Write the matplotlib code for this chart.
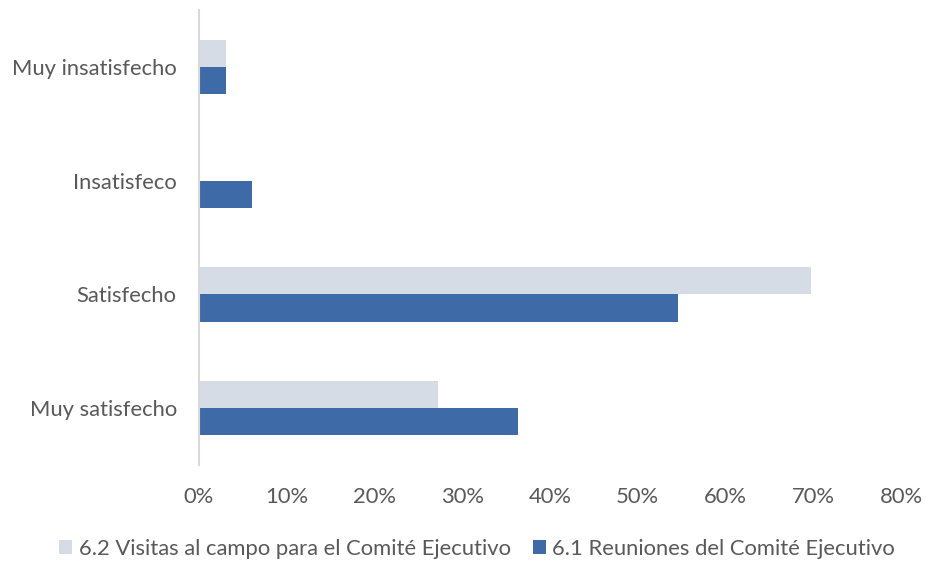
import matplotlib
matplotlib.use("Agg")
import matplotlib.pyplot as plt
import numpy as np
from matplotlib.ticker import PercentFormatter

categories = ["Muy insatisfecho", "Insatisfeco", "Satisfecho", "Muy satisfecho"]
visitas = [3.03, 0.0, 69.7, 27.27]      # 6.2 Visitas al campo para el Comité Ejecutivo
reuniones = [3.03, 6.06, 54.55, 36.36]  # 6.1 Reuniones del Comité Ejecutivo
series_names = ["6.2 Visitas al campo para el Comité Ejecutivo",
                "6.1 Reuniones del Comité Ejecutivo"]
xticks = [0, 10, 20, 30, 40, 50, 60, 70, 80]

plt.rcParams['font.family'] = ['Lato', 'DejaVu Sans']
grey = "#595959"
fs = 15.8

fig = plt.figure(figsize=(9.26, 5.63), dpi=100)
ax = fig.add_axes([199/926, 1-465/563, (901-199)/926, (465-10)/563])

y = np.arange(len(categories))
h = 0.24
ax.barh(y - h/2, visitas, height=h, color="#D6DCE5", label=series_names[0])
ax.barh(y + h/2, reuniones, height=h, color="#3F6AA8", label=series_names[1])

ax.set_ylim(len(categories) - 0.5, -0.5)
ax.set_yticks(y)
ax.set_yticklabels(categories, color=grey, fontsize=fs)
ax.set_xlim(0, 80)
ax.set_xticks(xticks)
ax.xaxis.set_major_formatter(PercentFormatter(decimals=0))
for lbl in ax.get_xticklabels():
    lbl.set_color(grey)
    lbl.set_fontsize(fs)

for s in ["top", "right", "bottom"]:
    ax.spines[s].set_visible(False)
ax.spines["left"].set_color("#D9D9D9")
ax.spines["left"].set_linewidth(1.5)
ax.tick_params(axis="both", length=0)
ax.tick_params(axis="y", pad=16)
ax.tick_params(axis="x", pad=16)

fig.legend(loc="center", bbox_to_anchor=(477/926, 1-549/563), ncol=2, frameon=False,
           fontsize=fs, handlelength=0.6, handleheight=0.6, handletextpad=0.3,
           columnspacing=1.0, labelcolor=grey)

fig.savefig("out.png", dpi=100)
